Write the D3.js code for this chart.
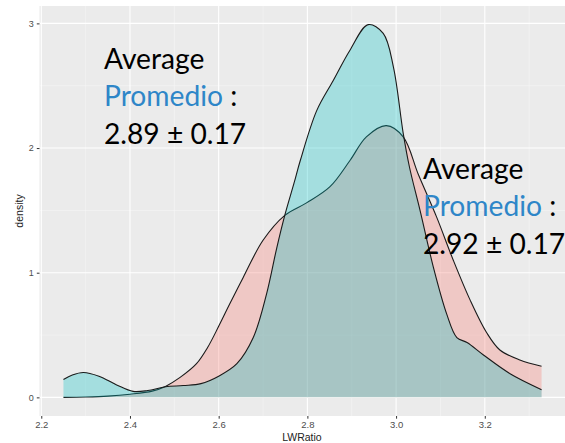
<!DOCTYPE html>
<html>
<head>
<meta charset="utf-8">
<script src="https://cdn.jsdelivr.net/npm/d3@7"></script>
<style>
  html, body { margin: 0; padding: 0; background: #ffffff; }
  svg { display: block; }
</style>
</head>
<body>
<svg id="chart" width="565" height="443"></svg>
<script>
// ---- data ----
const groups = ["A", "B"];
const pinkX = [2.25, 2.30, 2.35, 2.40, 2.45, 2.48, 2.513, 2.55, 2.575, 2.60, 2.625, 2.655, 2.70, 2.749, 2.798, 2.851, 2.896, 2.933, 2.978, 3.016, 3.05, 3.091, 3.129, 3.167, 3.204, 3.234, 3.279, 3.328];
const pinkY = [0.0, 0.003, 0.01, 0.025, 0.05, 0.088, 0.16, 0.27, 0.40, 0.57, 0.75, 0.96, 1.26, 1.46, 1.56, 1.69, 1.90, 2.09, 2.18, 2.09, 1.79, 1.45, 1.10, 0.78, 0.52, 0.38, 0.30, 0.25];
const cyanX = [2.25, 2.27, 2.295, 2.33, 2.37, 2.407, 2.44, 2.48, 2.52, 2.56, 2.60, 2.641, 2.678, 2.708, 2.731, 2.749, 2.77, 2.784, 2.821, 2.858, 2.896, 2.937, 2.971, 2.994, 3.016, 3.03, 3.054, 3.084, 3.114, 3.137, 3.16, 3.197, 3.257, 3.328];
const cyanY = [0.144, 0.18, 0.20, 0.17, 0.10, 0.048, 0.055, 0.085, 0.095, 0.11, 0.17, 0.27, 0.48, 0.83, 1.20, 1.46, 1.72, 1.90, 2.30, 2.54, 2.785, 2.99, 2.92, 2.65, 2.12, 1.85, 1.50, 1.045, 0.67, 0.48, 0.44, 0.34, 0.19, 0.062];
const xTicks = [2.2, 2.4, 2.6, 2.8, 3.0, 3.2];
const xMinor = [2.3, 2.5, 2.7, 2.9, 3.1, 3.3];
const yTicks = [0, 1, 2, 3];
const yMinor = [0.5, 1.5, 2.5];
const xTitle = "LWRatio";
const yTitle = "density";
const labelLine1 = "Average";
const labelLine2 = "Promedio";
const labelsLine3 = ["2.89 \u00b1 0.17", "2.92 \u00b1 0.17"];

// ---- layout ----
const svg = d3.select("#chart");
const panel = { left: 39.5, right: 566.4, top: 6, bottom: 416 };
const x = d3.scaleLinear().domain([2.196, 3.384]).range([panel.left, panel.right]);
const y = d3.scaleLinear().domain([-0.1495, 3.1395]).range([panel.bottom, panel.top]);

svg.append("rect")
  .attr("x", panel.left).attr("y", panel.top)
  .attr("width", panel.right - panel.left).attr("height", panel.bottom - panel.top)
  .attr("fill", "#EBEBEB");

const grid = svg.append("g");
grid.selectAll(".xm").data(xMinor).enter().append("line")
  .attr("x1", d => x(d)).attr("x2", d => x(d))
  .attr("y1", panel.top).attr("y2", panel.bottom)
  .attr("stroke", "#F7F7F7").attr("stroke-width", 0.6);
grid.selectAll(".ym").data(yMinor).enter().append("line")
  .attr("y1", d => y(d)).attr("y2", d => y(d))
  .attr("x1", panel.left).attr("x2", panel.right)
  .attr("stroke", "#F7F7F7").attr("stroke-width", 0.6);
grid.selectAll(".xM").data(xTicks).enter().append("line")
  .attr("x1", d => x(d)).attr("x2", d => x(d))
  .attr("y1", panel.top).attr("y2", panel.bottom)
  .attr("stroke", "#FFFFFF").attr("stroke-width", 1.1);
grid.selectAll(".yM").data(yTicks).enter().append("line")
  .attr("y1", d => y(d)).attr("y2", d => y(d))
  .attr("x1", panel.left).attr("x2", panel.right)
  .attr("stroke", "#FFFFFF").attr("stroke-width", 1.1);

const series = [
  { key: groups[0], xs: pinkX, ys: pinkY, fill: "#F8766D" },
  { key: groups[1], xs: cyanX, ys: cyanY, fill: "#00BFC4" }
];
const curve = d3.curveCatmullRom.alpha(0.5);
const area = d3.area().x(d => x(d[0])).y0(y(0)).y1(d => y(d[1])).curve(curve);
const line = d3.line().x(d => x(d[0])).y(d => y(d[1])).curve(curve);

series.forEach(s => {
  const pts = s.xs.map((v, i) => [v, s.ys[i]]);
  svg.append("path").datum(pts)
    .attr("d", area).attr("fill", s.fill).attr("fill-opacity", 0.3);
  svg.append("path").datum(pts)
    .attr("d", line).attr("fill", "none")
    .attr("stroke", "#1a1a1a").attr("stroke-width", 1.1);
});

// ---- axes ----
const xAxis = d3.axisBottom(x).tickValues(xTicks).tickSize(2.7).tickPadding(3)
  .tickFormat(d3.format(".1f"));
const gx = svg.append("g").attr("transform", `translate(0,${panel.bottom})`).call(xAxis);
gx.select(".domain").remove();
gx.selectAll(".tick line").attr("stroke", "#333333").attr("stroke-width", 1);
gx.selectAll(".tick text").attr("fill", "#4D4D4D")
  .style("font-family", "Liberation Sans, Arial, sans-serif").style("font-size", "9.5px");

const yAxis = d3.axisLeft(y).tickValues(yTicks).tickSize(2.7).tickPadding(3)
  .tickFormat(d3.format("d"));
const gy = svg.append("g").attr("transform", `translate(${panel.left},0)`).call(yAxis);
gy.select(".domain").remove();
gy.selectAll(".tick line").attr("stroke", "#333333").attr("stroke-width", 1);
gy.selectAll(".tick text").attr("fill", "#4D4D4D")
  .style("font-family", "Liberation Sans, Arial, sans-serif").style("font-size", "9px");

svg.append("text")
  .attr("x", (panel.left + panel.right) / 2 - 1).attr("y", 441)
  .attr("text-anchor", "middle").attr("fill", "#222")
  .style("font-family", "Liberation Sans, Arial, sans-serif").style("font-size", "10.5px")
  .text(xTitle);
svg.append("text")
  .attr("transform", `translate(23,${(panel.top + panel.bottom) / 2}) rotate(-90)`)
  .attr("text-anchor", "middle").attr("fill", "#222")
  .style("font-family", "Liberation Sans, Arial, sans-serif").style("font-size", "10.5px")
  .text(yTitle);

// ---- annotations ----
const fontFam = "Lato, 'Open Sans', sans-serif";
const fs = 28.2;
function annot(x0, yBase, third) {
  const g = svg.append("g").style("font-family", fontFam).style("font-size", fs + "px");
  g.append("text").attr("x", x0).attr("y", yBase).attr("fill", "#000").text(labelLine1);
  const t2 = g.append("text").attr("x", x0).attr("y", yBase + 37.5);
  t2.append("tspan").attr("fill", "#2E86C8").text(labelLine2);
  t2.append("tspan").attr("fill", "#000").text(" :");
  g.append("text").attr("x", x0).attr("y", yBase + 75).attr("fill", "#000").text(third);
}
annot(104, 68.5, labelsLine3[0]);
annot(423, 178.5, labelsLine3[1]);
</script>
</body>
</html>
